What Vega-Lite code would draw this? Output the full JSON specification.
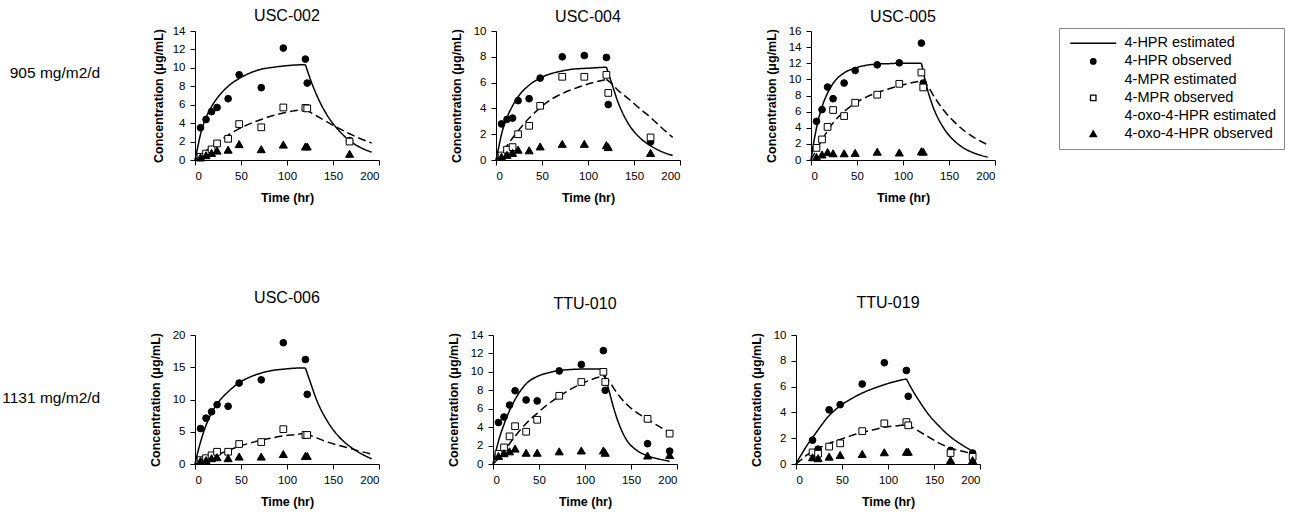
{
  "$schema": "https://vega.github.io/schema/vega-lite/v6.json",
  "padding": {"left": 2, "top": 8, "right": 4, "bottom": 4},
  "background": "white",
  "config": {
    "font": "Liberation Sans",
    "view": {"stroke": null},
    "axis": {"grid": false, "domainColor": "black", "tickColor": "black", "labelColor": "black", "titleColor": "black", "labelFontSize": 11.5, "titleFontSize": 12.5, "titleFontWeight": "bold", "tickSize": 5, "labelPadding": 5, "domainWidth": 1, "tickWidth": 1},
    "axisX": {"titlePadding": 10},
    "axisY": {"titlePadding": 10},
    "title": {"fontSize": 16, "fontWeight": "normal", "color": "black", "anchor": "middle"},
    "legend": {"labelFont": "Liberation Sans", "labelFontSize": 14.5, "labelColor": "black", "symbolSize": 30, "symbolStrokeWidth": 1.3, "strokeColor": "#888888", "fillColor": "white", "padding": 8, "rowPadding": 3.2, "labelOffset": 24, "symbolOffset": 19, "labelLimit": 300}
  },
  "datasets": {
    "obs": [
      {"panel":"USC-002","hr":6,"4-HPR observed":3.5,"4-MPR observed":0.35,"4-oxo-4-HPR observed":0.2},
      {"panel":"USC-002","hr":12,"4-HPR observed":4.4,"4-MPR observed":0.7,"4-oxo-4-HPR observed":0.45},
      {"panel":"USC-002","hr":18,"4-HPR observed":5.25,"4-MPR observed":1.15,"4-oxo-4-HPR observed":0.7},
      {"panel":"USC-002","hr":24,"4-HPR observed":5.7,"4-MPR observed":1.8,"4-oxo-4-HPR observed":0.95},
      {"panel":"USC-002","hr":36,"4-HPR observed":6.65,"4-MPR observed":2.3,"4-oxo-4-HPR observed":1.05},
      {"panel":"USC-002","hr":48,"4-HPR observed":9.25,"4-MPR observed":3.9,"4-oxo-4-HPR observed":1.65},
      {"panel":"USC-002","hr":72,"4-HPR observed":7.85,"4-MPR observed":3.55,"4-oxo-4-HPR observed":1.1},
      {"panel":"USC-002","hr":96,"4-HPR observed":12.15,"4-MPR observed":5.7,"4-oxo-4-HPR observed":1.6},
      {"panel":"USC-002","hr":120,"4-HPR observed":10.95,"4-MPR observed":5.65,"4-oxo-4-HPR observed":1.4},
      {"panel":"USC-002","hr":122,"4-HPR observed":8.35,"4-MPR observed":5.6,"4-oxo-4-HPR observed":1.4},
      {"panel":"USC-002","hr":168,"4-HPR observed":2.1,"4-MPR observed":2.0,"4-oxo-4-HPR observed":0.6},
      {"panel":"USC-004","hr":6,"4-HPR observed":2.8,"4-MPR observed":0.35,"4-oxo-4-HPR observed":0.2},
      {"panel":"USC-004","hr":12,"4-HPR observed":3.15,"4-MPR observed":0.8,"4-oxo-4-HPR observed":0.35},
      {"panel":"USC-004","hr":18,"4-HPR observed":3.25,"4-MPR observed":1.0,"4-oxo-4-HPR observed":0.5},
      {"panel":"USC-004","hr":24,"4-HPR observed":4.6,"4-MPR observed":2.0,"4-oxo-4-HPR observed":0.75},
      {"panel":"USC-004","hr":36,"4-HPR observed":4.75,"4-MPR observed":2.65,"4-oxo-4-HPR observed":0.7},
      {"panel":"USC-004","hr":48,"4-HPR observed":6.35,"4-MPR observed":4.2,"4-oxo-4-HPR observed":1.0},
      {"panel":"USC-004","hr":72,"4-HPR observed":8.0,"4-MPR observed":6.45,"4-oxo-4-HPR observed":1.2},
      {"panel":"USC-004","hr":96,"4-HPR observed":8.1,"4-MPR observed":6.45,"4-oxo-4-HPR observed":1.2},
      {"panel":"USC-004","hr":120,"4-HPR observed":7.95,"4-MPR observed":6.6,"4-oxo-4-HPR observed":1.1},
      {"panel":"USC-004","hr":122,"4-HPR observed":4.3,"4-MPR observed":5.2,"4-oxo-4-HPR observed":0.95},
      {"panel":"USC-004","hr":168,"4-HPR observed":1.4,"4-MPR observed":1.75,"4-oxo-4-HPR observed":0.5},
      {"panel":"USC-005","hr":6,"4-HPR observed":4.8,"4-MPR observed":1.5,"4-oxo-4-HPR observed":0.3},
      {"panel":"USC-005","hr":12,"4-HPR observed":6.25,"4-MPR observed":2.55,"4-oxo-4-HPR observed":0.6},
      {"panel":"USC-005","hr":18,"4-HPR observed":9.05,"4-MPR observed":4.1,"4-oxo-4-HPR observed":0.9},
      {"panel":"USC-005","hr":24,"4-HPR observed":7.6,"4-MPR observed":6.2,"4-oxo-4-HPR observed":0.75},
      {"panel":"USC-005","hr":36,"4-HPR observed":9.55,"4-MPR observed":5.45,"4-oxo-4-HPR observed":0.75},
      {"panel":"USC-005","hr":48,"4-HPR observed":11.1,"4-MPR observed":7.1,"4-oxo-4-HPR observed":0.8},
      {"panel":"USC-005","hr":72,"4-HPR observed":11.8,"4-MPR observed":8.1,"4-oxo-4-HPR observed":0.95},
      {"panel":"USC-005","hr":96,"4-HPR observed":12.05,"4-MPR observed":9.45,"4-oxo-4-HPR observed":0.85},
      {"panel":"USC-005","hr":120,"4-HPR observed":14.5,"4-MPR observed":10.85,"4-oxo-4-HPR observed":1.0},
      {"panel":"USC-005","hr":122,"4-HPR observed":9.55,"4-MPR observed":9.0,"4-oxo-4-HPR observed":0.95},
      {"panel":"USC-006","hr":6,"4-HPR observed":5.5,"4-MPR observed":0.6,"4-oxo-4-HPR observed":0.4},
      {"panel":"USC-006","hr":12,"4-HPR observed":7.1,"4-MPR observed":0.9,"4-oxo-4-HPR observed":0.5},
      {"panel":"USC-006","hr":18,"4-HPR observed":8.1,"4-MPR observed":1.35,"4-oxo-4-HPR observed":0.8},
      {"panel":"USC-006","hr":24,"4-HPR observed":9.2,"4-MPR observed":1.9,"4-oxo-4-HPR observed":0.95},
      {"panel":"USC-006","hr":36,"4-HPR observed":8.95,"4-MPR observed":1.9,"4-oxo-4-HPR observed":0.8},
      {"panel":"USC-006","hr":48,"4-HPR observed":12.55,"4-MPR observed":3.1,"4-oxo-4-HPR observed":1.05},
      {"panel":"USC-006","hr":72,"4-HPR observed":13.05,"4-MPR observed":3.4,"4-oxo-4-HPR observed":1.05},
      {"panel":"USC-006","hr":96,"4-HPR observed":18.8,"4-MPR observed":5.4,"4-oxo-4-HPR observed":1.45},
      {"panel":"USC-006","hr":120,"4-HPR observed":16.2,"4-MPR observed":4.5,"4-oxo-4-HPR observed":1.15},
      {"panel":"USC-006","hr":122,"4-HPR observed":10.8,"4-MPR observed":4.5,"4-oxo-4-HPR observed":1.15},
      {"panel":"TTU-010","hr":6,"4-HPR observed":4.5,"4-MPR observed":1.1,"4-oxo-4-HPR observed":0.8},
      {"panel":"TTU-010","hr":12,"4-HPR observed":5.1,"4-MPR observed":1.8,"4-oxo-4-HPR observed":1.1},
      {"panel":"TTU-010","hr":18,"4-HPR observed":6.4,"4-MPR observed":3.0,"4-oxo-4-HPR observed":1.3},
      {"panel":"TTU-010","hr":24,"4-HPR observed":7.95,"4-MPR observed":4.1,"4-oxo-4-HPR observed":1.6},
      {"panel":"TTU-010","hr":36,"4-HPR observed":6.95,"4-MPR observed":3.5,"4-oxo-4-HPR observed":1.15},
      {"panel":"TTU-010","hr":48,"4-HPR observed":6.85,"4-MPR observed":4.8,"4-oxo-4-HPR observed":1.15},
      {"panel":"TTU-010","hr":72,"4-HPR observed":10.1,"4-MPR observed":7.4,"4-oxo-4-HPR observed":1.3},
      {"panel":"TTU-010","hr":96,"4-HPR observed":10.8,"4-MPR observed":8.9,"4-oxo-4-HPR observed":1.4},
      {"panel":"TTU-010","hr":120,"4-HPR observed":12.3,"4-MPR observed":10.0,"4-oxo-4-HPR observed":1.4},
      {"panel":"TTU-010","hr":122,"4-HPR observed":8.0,"4-MPR observed":8.9,"4-oxo-4-HPR observed":1.15},
      {"panel":"TTU-010","hr":168,"4-HPR observed":2.2,"4-MPR observed":4.9,"4-oxo-4-HPR observed":0.85},
      {"panel":"TTU-010","hr":192,"4-HPR observed":1.4,"4-MPR observed":3.3,"4-oxo-4-HPR observed":0.9},
      {"panel":"TTU-019","hr":18,"4-HPR observed":1.85,"4-MPR observed":0.9,"4-oxo-4-HPR observed":0.47},
      {"panel":"TTU-019","hr":24,"4-HPR observed":1.15,"4-MPR observed":0.8,"4-oxo-4-HPR observed":0.4},
      {"panel":"TTU-019","hr":36,"4-HPR observed":4.2,"4-MPR observed":1.35,"4-oxo-4-HPR observed":0.52},
      {"panel":"TTU-019","hr":48,"4-HPR observed":4.6,"4-MPR observed":1.6,"4-oxo-4-HPR observed":0.65},
      {"panel":"TTU-019","hr":72,"4-HPR observed":6.2,"4-MPR observed":2.55,"4-oxo-4-HPR observed":0.73},
      {"panel":"TTU-019","hr":96,"4-HPR observed":7.85,"4-MPR observed":3.15,"4-oxo-4-HPR observed":0.86},
      {"panel":"TTU-019","hr":120,"4-HPR observed":7.25,"4-MPR observed":3.25,"4-oxo-4-HPR observed":0.9},
      {"panel":"TTU-019","hr":122,"4-HPR observed":5.25,"4-MPR observed":3.0,"4-oxo-4-HPR observed":0.9},
      {"panel":"TTU-019","hr":168,"4-HPR observed":1.05,"4-MPR observed":0.85,"4-oxo-4-HPR observed":0.25},
      {"panel":"TTU-019","hr":192,"4-HPR observed":0.85,"4-MPR observed":0.55,"4-oxo-4-HPR observed":0.25}
    ],
    "est": [
      {"panel":"USC-002","phase":"rise","hr":0,"4-HPR estimated":0,"4-MPR estimated":0},
      {"panel":"USC-002","phase":"rise","hr":3,"4-HPR estimated":1.4,"4-MPR estimated":0.25},
      {"panel":"USC-002","phase":"rise","hr":6,"4-HPR estimated":2.8,"4-MPR estimated":0.5},
      {"panel":"USC-002","phase":"rise","hr":12,"4-HPR estimated":4.6,"4-MPR estimated":1.0},
      {"panel":"USC-002","phase":"rise","hr":18,"4-HPR estimated":5.8,"4-MPR estimated":1.45},
      {"panel":"USC-002","phase":"rise","hr":24,"4-HPR estimated":6.7,"4-MPR estimated":1.9},
      {"panel":"USC-002","phase":"rise","hr":36,"4-HPR estimated":8.0,"4-MPR estimated":2.7},
      {"panel":"USC-002","phase":"rise","hr":48,"4-HPR estimated":8.85,"4-MPR estimated":3.4},
      {"panel":"USC-002","phase":"rise","hr":60,"4-HPR estimated":9.45,"4-MPR estimated":3.95},
      {"panel":"USC-002","phase":"rise","hr":72,"4-HPR estimated":9.85,"4-MPR estimated":4.4},
      {"panel":"USC-002","phase":"rise","hr":84,"4-HPR estimated":10.05,"4-MPR estimated":4.8},
      {"panel":"USC-002","phase":"rise","hr":96,"4-HPR estimated":10.2,"4-MPR estimated":5.1},
      {"panel":"USC-002","phase":"rise","hr":108,"4-HPR estimated":10.3,"4-MPR estimated":5.35},
      {"panel":"USC-002","phase":"rise","hr":120,"4-HPR estimated":10.35,"4-MPR estimated":5.5},
      {"panel":"USC-002","phase":"fall","hr":120,"4-HPR estimated":10.35,"4-MPR estimated":5.5},
      {"panel":"USC-002","phase":"fall","hr":126,"4-HPR estimated":8.6,"4-MPR estimated":5.15},
      {"panel":"USC-002","phase":"fall","hr":132,"4-HPR estimated":7.1,"4-MPR estimated":4.8},
      {"panel":"USC-002","phase":"fall","hr":144,"4-HPR estimated":4.8,"4-MPR estimated":4.1},
      {"panel":"USC-002","phase":"fall","hr":156,"4-HPR estimated":3.25,"4-MPR estimated":3.45},
      {"panel":"USC-002","phase":"fall","hr":168,"4-HPR estimated":2.1,"4-MPR estimated":2.85},
      {"panel":"USC-002","phase":"fall","hr":180,"4-HPR estimated":1.35,"4-MPR estimated":2.3},
      {"panel":"USC-002","phase":"fall","hr":192,"4-HPR estimated":0.85,"4-MPR estimated":1.85},
      {"panel":"USC-004","phase":"rise","hr":0,"4-HPR estimated":0,"4-MPR estimated":0},
      {"panel":"USC-004","phase":"rise","hr":3,"4-HPR estimated":1.0,"4-MPR estimated":0.25},
      {"panel":"USC-004","phase":"rise","hr":6,"4-HPR estimated":2.0,"4-MPR estimated":0.5},
      {"panel":"USC-004","phase":"rise","hr":12,"4-HPR estimated":3.3,"4-MPR estimated":1.1},
      {"panel":"USC-004","phase":"rise","hr":18,"4-HPR estimated":4.2,"4-MPR estimated":1.7},
      {"panel":"USC-004","phase":"rise","hr":24,"4-HPR estimated":4.9,"4-MPR estimated":2.25},
      {"panel":"USC-004","phase":"rise","hr":36,"4-HPR estimated":5.8,"4-MPR estimated":3.25},
      {"panel":"USC-004","phase":"rise","hr":48,"4-HPR estimated":6.35,"4-MPR estimated":4.05},
      {"panel":"USC-004","phase":"rise","hr":60,"4-HPR estimated":6.7,"4-MPR estimated":4.7},
      {"panel":"USC-004","phase":"rise","hr":72,"4-HPR estimated":6.9,"4-MPR estimated":5.15},
      {"panel":"USC-004","phase":"rise","hr":84,"4-HPR estimated":7.05,"4-MPR estimated":5.5},
      {"panel":"USC-004","phase":"rise","hr":96,"4-HPR estimated":7.1,"4-MPR estimated":5.8},
      {"panel":"USC-004","phase":"rise","hr":108,"4-HPR estimated":7.15,"4-MPR estimated":6.05},
      {"panel":"USC-004","phase":"rise","hr":120,"4-HPR estimated":7.2,"4-MPR estimated":6.25},
      {"panel":"USC-004","phase":"fall","hr":120,"4-HPR estimated":7.2,"4-MPR estimated":6.25},
      {"panel":"USC-004","phase":"fall","hr":126,"4-HPR estimated":5.9,"4-MPR estimated":5.9},
      {"panel":"USC-004","phase":"fall","hr":132,"4-HPR estimated":4.6,"4-MPR estimated":5.45},
      {"panel":"USC-004","phase":"fall","hr":144,"4-HPR estimated":2.8,"4-MPR estimated":4.75},
      {"panel":"USC-004","phase":"fall","hr":156,"4-HPR estimated":1.75,"4-MPR estimated":4.0},
      {"panel":"USC-004","phase":"fall","hr":168,"4-HPR estimated":1.1,"4-MPR estimated":3.3},
      {"panel":"USC-004","phase":"fall","hr":180,"4-HPR estimated":0.65,"4-MPR estimated":2.5},
      {"panel":"USC-004","phase":"fall","hr":192,"4-HPR estimated":0.35,"4-MPR estimated":1.75},
      {"panel":"USC-005","phase":"rise","hr":0,"4-HPR estimated":0,"4-MPR estimated":0},
      {"panel":"USC-005","phase":"rise","hr":3,"4-HPR estimated":2.2,"4-MPR estimated":0.65},
      {"panel":"USC-005","phase":"rise","hr":6,"4-HPR estimated":4.0,"4-MPR estimated":1.3},
      {"panel":"USC-005","phase":"rise","hr":12,"4-HPR estimated":6.6,"4-MPR estimated":2.5},
      {"panel":"USC-005","phase":"rise","hr":18,"4-HPR estimated":8.3,"4-MPR estimated":3.6},
      {"panel":"USC-005","phase":"rise","hr":24,"4-HPR estimated":9.5,"4-MPR estimated":4.6},
      {"panel":"USC-005","phase":"rise","hr":36,"4-HPR estimated":10.8,"4-MPR estimated":6.0},
      {"panel":"USC-005","phase":"rise","hr":48,"4-HPR estimated":11.4,"4-MPR estimated":7.05},
      {"panel":"USC-005","phase":"rise","hr":60,"4-HPR estimated":11.75,"4-MPR estimated":7.8},
      {"panel":"USC-005","phase":"rise","hr":72,"4-HPR estimated":11.9,"4-MPR estimated":8.35},
      {"panel":"USC-005","phase":"rise","hr":84,"4-HPR estimated":11.95,"4-MPR estimated":8.8},
      {"panel":"USC-005","phase":"rise","hr":96,"4-HPR estimated":12.0,"4-MPR estimated":9.2},
      {"panel":"USC-005","phase":"rise","hr":108,"4-HPR estimated":12.0,"4-MPR estimated":9.55},
      {"panel":"USC-005","phase":"rise","hr":120,"4-HPR estimated":12.0,"4-MPR estimated":9.8},
      {"panel":"USC-005","phase":"fall","hr":120,"4-HPR estimated":12.0,"4-MPR estimated":9.8},
      {"panel":"USC-005","phase":"fall","hr":126,"4-HPR estimated":9.0,"4-MPR estimated":9.35},
      {"panel":"USC-005","phase":"fall","hr":132,"4-HPR estimated":6.8,"4-MPR estimated":8.2},
      {"panel":"USC-005","phase":"fall","hr":144,"4-HPR estimated":4.0,"4-MPR estimated":6.2},
      {"panel":"USC-005","phase":"fall","hr":156,"4-HPR estimated":2.35,"4-MPR estimated":4.7},
      {"panel":"USC-005","phase":"fall","hr":168,"4-HPR estimated":1.35,"4-MPR estimated":3.5},
      {"panel":"USC-005","phase":"fall","hr":180,"4-HPR estimated":0.75,"4-MPR estimated":2.6},
      {"panel":"USC-005","phase":"fall","hr":192,"4-HPR estimated":0.35,"4-MPR estimated":1.9},
      {"panel":"USC-006","phase":"rise","hr":0,"4-HPR estimated":0,"4-MPR estimated":0},
      {"panel":"USC-006","phase":"rise","hr":3,"4-HPR estimated":1.8,"4-MPR estimated":0.15},
      {"panel":"USC-006","phase":"rise","hr":6,"4-HPR estimated":3.4,"4-MPR estimated":0.35},
      {"panel":"USC-006","phase":"rise","hr":12,"4-HPR estimated":6.0,"4-MPR estimated":0.7},
      {"panel":"USC-006","phase":"rise","hr":18,"4-HPR estimated":7.9,"4-MPR estimated":1.05},
      {"panel":"USC-006","phase":"rise","hr":24,"4-HPR estimated":9.3,"4-MPR estimated":1.4},
      {"panel":"USC-006","phase":"rise","hr":36,"4-HPR estimated":11.2,"4-MPR estimated":2.1},
      {"panel":"USC-006","phase":"rise","hr":48,"4-HPR estimated":12.6,"4-MPR estimated":2.75},
      {"panel":"USC-006","phase":"rise","hr":60,"4-HPR estimated":13.5,"4-MPR estimated":3.25},
      {"panel":"USC-006","phase":"rise","hr":72,"4-HPR estimated":14.1,"4-MPR estimated":3.7},
      {"panel":"USC-006","phase":"rise","hr":84,"4-HPR estimated":14.5,"4-MPR estimated":4.05},
      {"panel":"USC-006","phase":"rise","hr":96,"4-HPR estimated":14.7,"4-MPR estimated":4.35},
      {"panel":"USC-006","phase":"rise","hr":108,"4-HPR estimated":14.85,"4-MPR estimated":4.55},
      {"panel":"USC-006","phase":"rise","hr":120,"4-HPR estimated":14.9,"4-MPR estimated":4.75},
      {"panel":"USC-006","phase":"fall","hr":120,"4-HPR estimated":14.9,"4-MPR estimated":4.75},
      {"panel":"USC-006","phase":"fall","hr":126,"4-HPR estimated":12.4,"4-MPR estimated":4.4},
      {"panel":"USC-006","phase":"fall","hr":132,"4-HPR estimated":10.0,"4-MPR estimated":4.05},
      {"panel":"USC-006","phase":"fall","hr":144,"4-HPR estimated":6.6,"4-MPR estimated":3.4},
      {"panel":"USC-006","phase":"fall","hr":156,"4-HPR estimated":4.3,"4-MPR estimated":2.9},
      {"panel":"USC-006","phase":"fall","hr":168,"4-HPR estimated":2.75,"4-MPR estimated":2.45},
      {"panel":"USC-006","phase":"fall","hr":180,"4-HPR estimated":1.65,"4-MPR estimated":1.95},
      {"panel":"USC-006","phase":"fall","hr":192,"4-HPR estimated":0.8,"4-MPR estimated":1.55},
      {"panel":"TTU-010","phase":"rise","hr":0,"4-HPR estimated":0,"4-MPR estimated":0},
      {"panel":"TTU-010","phase":"rise","hr":3,"4-HPR estimated":1.3,"4-MPR estimated":0.3},
      {"panel":"TTU-010","phase":"rise","hr":6,"4-HPR estimated":2.5,"4-MPR estimated":0.6},
      {"panel":"TTU-010","phase":"rise","hr":12,"4-HPR estimated":4.3,"4-MPR estimated":1.3},
      {"panel":"TTU-010","phase":"rise","hr":18,"4-HPR estimated":5.8,"4-MPR estimated":2.2},
      {"panel":"TTU-010","phase":"rise","hr":24,"4-HPR estimated":7.0,"4-MPR estimated":3.0},
      {"panel":"TTU-010","phase":"rise","hr":36,"4-HPR estimated":8.7,"4-MPR estimated":4.4},
      {"panel":"TTU-010","phase":"rise","hr":48,"4-HPR estimated":9.5,"4-MPR estimated":5.5},
      {"panel":"TTU-010","phase":"rise","hr":60,"4-HPR estimated":9.9,"4-MPR estimated":6.5},
      {"panel":"TTU-010","phase":"rise","hr":72,"4-HPR estimated":10.15,"4-MPR estimated":7.35},
      {"panel":"TTU-010","phase":"rise","hr":84,"4-HPR estimated":10.25,"4-MPR estimated":8.1},
      {"panel":"TTU-010","phase":"rise","hr":96,"4-HPR estimated":10.3,"4-MPR estimated":8.7},
      {"panel":"TTU-010","phase":"rise","hr":108,"4-HPR estimated":10.3,"4-MPR estimated":9.2},
      {"panel":"TTU-010","phase":"rise","hr":120,"4-HPR estimated":10.3,"4-MPR estimated":9.55},
      {"panel":"TTU-010","phase":"fall","hr":120,"4-HPR estimated":10.3,"4-MPR estimated":9.55},
      {"panel":"TTU-010","phase":"fall","hr":126,"4-HPR estimated":8.0,"4-MPR estimated":9.0},
      {"panel":"TTU-010","phase":"fall","hr":132,"4-HPR estimated":5.8,"4-MPR estimated":8.1},
      {"panel":"TTU-010","phase":"fall","hr":144,"4-HPR estimated":2.8,"4-MPR estimated":6.6},
      {"panel":"TTU-010","phase":"fall","hr":156,"4-HPR estimated":1.5,"4-MPR estimated":5.6},
      {"panel":"TTU-010","phase":"fall","hr":168,"4-HPR estimated":0.9,"4-MPR estimated":4.85},
      {"panel":"TTU-010","phase":"fall","hr":180,"4-HPR estimated":0.55,"4-MPR estimated":4.1},
      {"panel":"TTU-010","phase":"fall","hr":192,"4-HPR estimated":0.3,"4-MPR estimated":3.4},
      {"panel":"TTU-019","phase":"rise","hr":0,"4-HPR estimated":0,"4-MPR estimated":0},
      {"panel":"TTU-019","phase":"rise","hr":3,"4-HPR estimated":0.4,"4-MPR estimated":0.18},
      {"panel":"TTU-019","phase":"rise","hr":6,"4-HPR estimated":0.75,"4-MPR estimated":0.35},
      {"panel":"TTU-019","phase":"rise","hr":12,"4-HPR estimated":1.45,"4-MPR estimated":0.7},
      {"panel":"TTU-019","phase":"rise","hr":18,"4-HPR estimated":2.05,"4-MPR estimated":0.95},
      {"panel":"TTU-019","phase":"rise","hr":24,"4-HPR estimated":2.65,"4-MPR estimated":1.2},
      {"panel":"TTU-019","phase":"rise","hr":36,"4-HPR estimated":3.75,"4-MPR estimated":1.6},
      {"panel":"TTU-019","phase":"rise","hr":48,"4-HPR estimated":4.5,"4-MPR estimated":1.9},
      {"panel":"TTU-019","phase":"rise","hr":60,"4-HPR estimated":5.05,"4-MPR estimated":2.2},
      {"panel":"TTU-019","phase":"rise","hr":72,"4-HPR estimated":5.5,"4-MPR estimated":2.45},
      {"panel":"TTU-019","phase":"rise","hr":84,"4-HPR estimated":5.85,"4-MPR estimated":2.65},
      {"panel":"TTU-019","phase":"rise","hr":96,"4-HPR estimated":6.15,"4-MPR estimated":2.85},
      {"panel":"TTU-019","phase":"rise","hr":108,"4-HPR estimated":6.4,"4-MPR estimated":2.95},
      {"panel":"TTU-019","phase":"rise","hr":120,"4-HPR estimated":6.6,"4-MPR estimated":3.05},
      {"panel":"TTU-019","phase":"fall","hr":120,"4-HPR estimated":6.6,"4-MPR estimated":3.05},
      {"panel":"TTU-019","phase":"fall","hr":126,"4-HPR estimated":5.8,"4-MPR estimated":2.85},
      {"panel":"TTU-019","phase":"fall","hr":132,"4-HPR estimated":5.1,"4-MPR estimated":2.6},
      {"panel":"TTU-019","phase":"fall","hr":144,"4-HPR estimated":3.85,"4-MPR estimated":2.1},
      {"panel":"TTU-019","phase":"fall","hr":156,"4-HPR estimated":2.9,"4-MPR estimated":1.6},
      {"panel":"TTU-019","phase":"fall","hr":168,"4-HPR estimated":2.1,"4-MPR estimated":1.25},
      {"panel":"TTU-019","phase":"fall","hr":180,"4-HPR estimated":1.5,"4-MPR estimated":1.0},
      {"panel":"TTU-019","phase":"fall","hr":192,"4-HPR estimated":1.0,"4-MPR estimated":0.8}
    ]
  },
  "resolve": {"scale": {"shape": "independent", "fill": "independent", "stroke": "independent", "strokeDash": "independent"}, "legend": {"shape": "independent", "fill": "independent", "stroke": "independent", "strokeDash": "independent"}},
  "spacing": 86,
  "vconcat": [
    {
      "title": {"text": "905 mg/m2/d", "orient": "left", "angle": 0, "align": "left", "baseline": "middle", "anchor": "middle", "fontSize": 15.5, "offset": 52, "dy": -33},
      "spacing": 84,
      "resolve": {"scale": {"shape": "independent", "fill": "independent", "stroke": "independent", "strokeDash": "independent"}, "legend": {"shape": "independent", "fill": "independent", "stroke": "independent", "strokeDash": "independent"}},
      "hconcat": [
        {
          "spacing": 70,
          "resolve": {"scale": {"shape": "independent", "fill": "independent", "stroke": "independent", "strokeDash": "independent"}, "legend": {"shape": "independent", "fill": "independent", "stroke": "independent", "strokeDash": "independent"}},
          "hconcat": [
            {
              "title": {"text": "USC-002", "offset": 1},
              "width": 184, "height": 129,
              "encoding": {
                "x": {"field": "hr", "type": "quantitative", "scale": {"domain": [0, 200], "nice": false}, "axis": {"values": [0, 50, 100, 150, 200], "title": "Time (hr)"}},
                "y": {"field": "conc", "type": "quantitative", "scale": {"domain": [0, 14], "nice": false}, "axis": {"values": [0, 2, 4, 6, 8, 10, 12, 14], "title": "Concentration (μg/mL)", "titlePadding": 7}}
              },
              "layer": [
                {"data": {"name": "est"}, "transform": [{"filter": "datum.panel === 'USC-002'"}, {"fold": ["4-HPR estimated", "4-MPR estimated"], "as": ["series", "conc"]}],
                 "mark": {"type": "line", "interpolate": "monotone", "color": "black", "strokeWidth": 1.5},
                 "encoding": {"detail": {"field": "phase"}, "strokeDash": {"field": "series", "type": "nominal", "scale": {"domain": ["4-HPR estimated", "4-MPR estimated"], "range": [[1, 0], [8, 4]]}, "legend": null}}},
                {"data": {"name": "obs"}, "transform": [{"filter": "datum.panel === 'USC-002'"}, {"fold": ["4-HPR observed", "4-MPR observed", "4-oxo-4-HPR observed"], "as": ["series", "conc"]}],
                 "mark": {"type": "point", "filled": false, "strokeWidth": 1, "size": 45, "opacity": 1},
                 "encoding": {
                   "shape": {"field": "series", "type": "nominal", "scale": {"domain": ["4-HPR estimated", "4-HPR observed", "4-MPR estimated", "4-MPR observed", "4-oxo-4-HPR estimated", "4-oxo-4-HPR observed"], "range": ["M-8.4,0L8.4,0", "circle", "M0,0", "square", "M0,0", "M0,-1.25L1.2,0.85L-1.2,0.85Z"]}, "legend": null},
                   "fill": {"field": "series", "type": "nominal", "scale": {"domain": ["4-HPR estimated", "4-HPR observed", "4-MPR estimated", "4-MPR observed", "4-oxo-4-HPR estimated", "4-oxo-4-HPR observed"], "range": ["black", "black", "white", "white", "white", "black"]}, "legend": null},
                   "stroke": {"field": "series", "type": "nominal", "scale": {"domain": ["4-HPR estimated", "4-HPR observed", "4-MPR estimated", "4-MPR observed", "4-oxo-4-HPR estimated", "4-oxo-4-HPR observed"], "range": ["black", "black", "black", "black", "black", "black"]}, "legend": null}
                 }}
              ]
            },
            {
              "title": {"text": "USC-004", "offset": 0},
              "width": 184, "height": 129,
              "encoding": {
                "x": {"field": "hr", "type": "quantitative", "scale": {"domain": [0, 200], "nice": false}, "axis": {"values": [0, 50, 100, 150, 200], "title": "Time (hr)"}},
                "y": {"field": "conc", "type": "quantitative", "scale": {"domain": [0, 10], "nice": false}, "axis": {"values": [0, 2, 4, 6, 8, 10], "title": "Concentration (μg/mL)"}}
              },
              "layer": [
                {"data": {"name": "est"}, "transform": [{"filter": "datum.panel === 'USC-004'"}, {"fold": ["4-HPR estimated", "4-MPR estimated"], "as": ["series", "conc"]}],
                 "mark": {"type": "line", "interpolate": "monotone", "color": "black", "strokeWidth": 1.5},
                 "encoding": {"detail": {"field": "phase"}, "strokeDash": {"field": "series", "type": "nominal", "scale": {"domain": ["4-HPR estimated", "4-MPR estimated"], "range": [[1, 0], [8, 4]]}, "legend": null}}},
                {"data": {"name": "obs"}, "transform": [{"filter": "datum.panel === 'USC-004'"}, {"fold": ["4-HPR observed", "4-MPR observed", "4-oxo-4-HPR observed"], "as": ["series", "conc"]}],
                 "mark": {"type": "point", "filled": false, "strokeWidth": 1, "size": 45, "opacity": 1},
                 "encoding": {
                   "shape": {"field": "series", "type": "nominal", "scale": {"domain": ["4-HPR estimated", "4-HPR observed", "4-MPR estimated", "4-MPR observed", "4-oxo-4-HPR estimated", "4-oxo-4-HPR observed"], "range": ["M-8.4,0L8.4,0", "circle", "M0,0", "square", "M0,0", "M0,-1.25L1.2,0.85L-1.2,0.85Z"]}, "legend": null},
                   "fill": {"field": "series", "type": "nominal", "scale": {"domain": ["4-HPR estimated", "4-HPR observed", "4-MPR estimated", "4-MPR observed", "4-oxo-4-HPR estimated", "4-oxo-4-HPR observed"], "range": ["black", "black", "white", "white", "white", "black"]}, "legend": null},
                   "stroke": {"field": "series", "type": "nominal", "scale": {"domain": ["4-HPR estimated", "4-HPR observed", "4-MPR estimated", "4-MPR observed", "4-oxo-4-HPR estimated", "4-oxo-4-HPR observed"], "range": ["black", "black", "black", "black", "black", "black"]}, "legend": null}
                 }}
              ]
            }
          ]
        },
        {
          "title": {"text": "USC-005", "offset": 0},
          "width": 184, "height": 129,
          "encoding": {
            "x": {"field": "hr", "type": "quantitative", "scale": {"domain": [0, 200], "nice": false}, "axis": {"values": [0, 50, 100, 150, 200], "title": "Time (hr)"}},
            "y": {"field": "conc", "type": "quantitative", "scale": {"domain": [0, 16], "nice": false}, "axis": {"values": [0, 2, 4, 6, 8, 10, 12, 14, 16], "title": "Concentration (μg/mL)"}}
          },
          "layer": [
            {"data": {"name": "est"}, "transform": [{"filter": "datum.panel === 'USC-005'"}, {"fold": ["4-HPR estimated", "4-MPR estimated"], "as": ["series", "conc"]}],
             "mark": {"type": "line", "interpolate": "monotone", "color": "black", "strokeWidth": 1.5},
             "encoding": {"detail": {"field": "phase"}, "strokeDash": {"field": "series", "type": "nominal", "scale": {"domain": ["4-HPR estimated", "4-MPR estimated"], "range": [[1, 0], [8, 4]]}, "legend": null}}},
            {"data": {"name": "obs"}, "transform": [{"filter": "datum.panel === 'USC-005'"}, {"fold": ["4-HPR observed", "4-MPR observed", "4-oxo-4-HPR observed"], "as": ["series", "conc"]}],
             "mark": {"type": "point", "filled": false, "strokeWidth": 1, "size": 45, "opacity": 1},
             "encoding": {
               "shape": {"field": "series", "type": "nominal", "scale": {"domain": ["4-HPR estimated", "4-HPR observed", "4-MPR estimated", "4-MPR observed", "4-oxo-4-HPR estimated", "4-oxo-4-HPR observed"], "range": ["M-8.4,0L8.4,0", "circle", "M0,0", "square", "M0,0", "M0,-1.25L1.2,0.85L-1.2,0.85Z"]},
                 "legend": {"orient": "none", "legendX": 248, "legendY": -3, "title": null}},
               "fill": {"field": "series", "type": "nominal", "scale": {"domain": ["4-HPR estimated", "4-HPR observed", "4-MPR estimated", "4-MPR observed", "4-oxo-4-HPR estimated", "4-oxo-4-HPR observed"], "range": ["black", "black", "white", "white", "white", "black"]},
                 "legend": {"orient": "none", "legendX": 248, "legendY": -3, "title": null}},
               "stroke": {"field": "series", "type": "nominal", "scale": {"domain": ["4-HPR estimated", "4-HPR observed", "4-MPR estimated", "4-MPR observed", "4-oxo-4-HPR estimated", "4-oxo-4-HPR observed"], "range": ["black", "black", "black", "black", "black", "black"]},
                 "legend": {"orient": "none", "legendX": 248, "legendY": -3, "title": null}}
             }}
          ]
        }
      ]
    },
    {
      "title": {"text": "1131 mg/m2/d", "orient": "left", "angle": 0, "align": "left", "baseline": "middle", "anchor": "middle", "fontSize": 15.5, "offset": 49, "dy": -1},
      "spacing": 72,
      "resolve": {"scale": {"shape": "independent", "fill": "independent", "stroke": "independent", "strokeDash": "independent"}, "legend": {"shape": "independent", "fill": "independent", "stroke": "independent", "strokeDash": "independent"}},
      "hconcat": [
        {
          "spacing": 67,
          "resolve": {"scale": {"shape": "independent", "fill": "independent", "stroke": "independent", "strokeDash": "independent"}, "legend": {"shape": "independent", "fill": "independent", "stroke": "independent", "strokeDash": "independent"}},
          "hconcat": [
            {
              "title": {"text": "USC-006", "offset": 23},
              "width": 184, "height": 129,
              "encoding": {
                "x": {"field": "hr", "type": "quantitative", "scale": {"domain": [0, 200], "nice": false}, "axis": {"values": [0, 50, 100, 150, 200], "title": "Time (hr)"}},
                "y": {"field": "conc", "type": "quantitative", "scale": {"domain": [0, 20], "nice": false}, "axis": {"values": [0, 5, 10, 15, 20], "title": "Concentration (μg/mL)"}}
              },
              "layer": [
                {"data": {"name": "est"}, "transform": [{"filter": "datum.panel === 'USC-006'"}, {"fold": ["4-HPR estimated", "4-MPR estimated"], "as": ["series", "conc"]}],
                 "mark": {"type": "line", "interpolate": "monotone", "color": "black", "strokeWidth": 1.5},
                 "encoding": {"detail": {"field": "phase"}, "strokeDash": {"field": "series", "type": "nominal", "scale": {"domain": ["4-HPR estimated", "4-MPR estimated"], "range": [[1, 0], [8, 4]]}, "legend": null}}},
                {"data": {"name": "obs"}, "transform": [{"filter": "datum.panel === 'USC-006'"}, {"fold": ["4-HPR observed", "4-MPR observed", "4-oxo-4-HPR observed"], "as": ["series", "conc"]}],
                 "mark": {"type": "point", "filled": false, "strokeWidth": 1, "size": 45, "opacity": 1},
                 "encoding": {
                   "shape": {"field": "series", "type": "nominal", "scale": {"domain": ["4-HPR estimated", "4-HPR observed", "4-MPR estimated", "4-MPR observed", "4-oxo-4-HPR estimated", "4-oxo-4-HPR observed"], "range": ["M-8.4,0L8.4,0", "circle", "M0,0", "square", "M0,0", "M0,-1.25L1.2,0.85L-1.2,0.85Z"]}, "legend": null},
                   "fill": {"field": "series", "type": "nominal", "scale": {"domain": ["4-HPR estimated", "4-HPR observed", "4-MPR estimated", "4-MPR observed", "4-oxo-4-HPR estimated", "4-oxo-4-HPR observed"], "range": ["black", "black", "white", "white", "white", "black"]}, "legend": null},
                   "stroke": {"field": "series", "type": "nominal", "scale": {"domain": ["4-HPR estimated", "4-HPR observed", "4-MPR estimated", "4-MPR observed", "4-oxo-4-HPR estimated", "4-oxo-4-HPR observed"], "range": ["black", "black", "black", "black", "black", "black"]}, "legend": null}
                 }}
              ]
            },
            {
              "title": {"text": "TTU-010", "offset": 17},
              "width": 184, "height": 129,
              "encoding": {
                "x": {"field": "hr", "type": "quantitative", "scale": {"domain": [0, 200], "nice": false}, "axis": {"values": [0, 50, 100, 150, 200], "title": "Time (hr)"}},
                "y": {"field": "conc", "type": "quantitative", "scale": {"domain": [0, 14], "nice": false}, "axis": {"values": [0, 2, 4, 6, 8, 10, 12, 14], "title": "Concentration (μg/mL)"}}
              },
              "layer": [
                {"data": {"name": "est"}, "transform": [{"filter": "datum.panel === 'TTU-010'"}, {"fold": ["4-HPR estimated", "4-MPR estimated"], "as": ["series", "conc"]}],
                 "mark": {"type": "line", "interpolate": "monotone", "color": "black", "strokeWidth": 1.5},
                 "encoding": {"detail": {"field": "phase"}, "strokeDash": {"field": "series", "type": "nominal", "scale": {"domain": ["4-HPR estimated", "4-MPR estimated"], "range": [[1, 0], [8, 4]]}, "legend": null}}},
                {"data": {"name": "obs"}, "transform": [{"filter": "datum.panel === 'TTU-010'"}, {"fold": ["4-HPR observed", "4-MPR observed", "4-oxo-4-HPR observed"], "as": ["series", "conc"]}],
                 "mark": {"type": "point", "filled": false, "strokeWidth": 1, "size": 45, "opacity": 1},
                 "encoding": {
                   "shape": {"field": "series", "type": "nominal", "scale": {"domain": ["4-HPR estimated", "4-HPR observed", "4-MPR estimated", "4-MPR observed", "4-oxo-4-HPR estimated", "4-oxo-4-HPR observed"], "range": ["M-8.4,0L8.4,0", "circle", "M0,0", "square", "M0,0", "M0,-1.25L1.2,0.85L-1.2,0.85Z"]}, "legend": null},
                   "fill": {"field": "series", "type": "nominal", "scale": {"domain": ["4-HPR estimated", "4-HPR observed", "4-MPR estimated", "4-MPR observed", "4-oxo-4-HPR estimated", "4-oxo-4-HPR observed"], "range": ["black", "black", "white", "white", "white", "black"]}, "legend": null},
                   "stroke": {"field": "series", "type": "nominal", "scale": {"domain": ["4-HPR estimated", "4-HPR observed", "4-MPR estimated", "4-MPR observed", "4-oxo-4-HPR estimated", "4-oxo-4-HPR observed"], "range": ["black", "black", "black", "black", "black", "black"]}, "legend": null}
                 }}
              ]
            }
          ]
        },
        {
          "title": {"text": "TTU-019", "offset": 18},
          "width": 184, "height": 129,
          "encoding": {
            "x": {"field": "hr", "type": "quantitative", "scale": {"domain": [0, 200], "nice": false}, "axis": {"values": [0, 50, 100, 150, 200], "title": "Time (hr)"}},
            "y": {"field": "conc", "type": "quantitative", "scale": {"domain": [0, 10], "nice": false}, "axis": {"values": [0, 2, 4, 6, 8, 10], "title": "Concentration (μg/mL)"}}
          },
          "layer": [
            {"data": {"name": "est"}, "transform": [{"filter": "datum.panel === 'TTU-019'"}, {"fold": ["4-HPR estimated", "4-MPR estimated"], "as": ["series", "conc"]}],
             "mark": {"type": "line", "interpolate": "monotone", "color": "black", "strokeWidth": 1.5},
             "encoding": {"detail": {"field": "phase"}, "strokeDash": {"field": "series", "type": "nominal", "scale": {"domain": ["4-HPR estimated", "4-MPR estimated"], "range": [[1, 0], [8, 4]]}, "legend": null}}},
            {"data": {"name": "obs"}, "transform": [{"filter": "datum.panel === 'TTU-019'"}, {"fold": ["4-HPR observed", "4-MPR observed", "4-oxo-4-HPR observed"], "as": ["series", "conc"]}],
             "mark": {"type": "point", "filled": false, "strokeWidth": 1, "size": 45, "opacity": 1},
             "encoding": {
               "shape": {"field": "series", "type": "nominal", "scale": {"domain": ["4-HPR estimated", "4-HPR observed", "4-MPR estimated", "4-MPR observed", "4-oxo-4-HPR estimated", "4-oxo-4-HPR observed"], "range": ["M-8.4,0L8.4,0", "circle", "M0,0", "square", "M0,0", "M0,-1.25L1.2,0.85L-1.2,0.85Z"]}, "legend": null},
               "fill": {"field": "series", "type": "nominal", "scale": {"domain": ["4-HPR estimated", "4-HPR observed", "4-MPR estimated", "4-MPR observed", "4-oxo-4-HPR estimated", "4-oxo-4-HPR observed"], "range": ["black", "black", "white", "white", "white", "black"]}, "legend": null},
               "stroke": {"field": "series", "type": "nominal", "scale": {"domain": ["4-HPR estimated", "4-HPR observed", "4-MPR estimated", "4-MPR observed", "4-oxo-4-HPR estimated", "4-oxo-4-HPR observed"], "range": ["black", "black", "black", "black", "black", "black"]}, "legend": null}
             }}
          ]
        }
      ]
    }
  ]
}
